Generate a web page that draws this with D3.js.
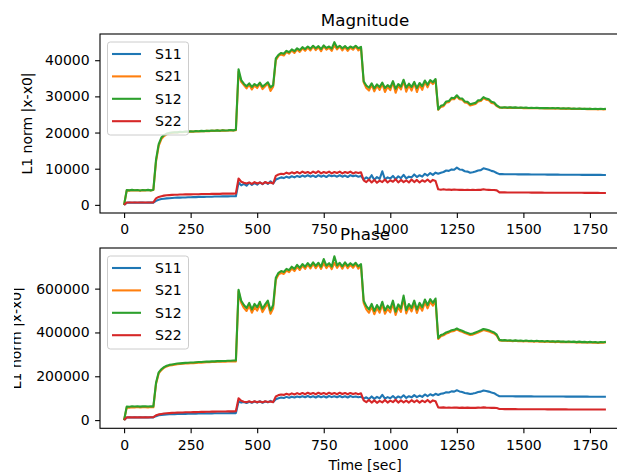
<!DOCTYPE html>
<html>
<head>
<meta charset="utf-8">
<script src="https://cdn.jsdelivr.net/npm/d3@7"></script>
<style>
  body { margin: 0; background: #fff; }
  svg { display: block; }
  text { font-family: "DejaVu Sans", sans-serif; }
</style>
</head>
<body>
<svg id="chart" width="617" height="476"></svg>
<script>
// Sample times (seconds)
const timeSec = [
  0,10,20,30,40,50,60,70,80,90,
  100,110,120,130,140,150,160,170,180,190,
  200,210,220,230,240,250,260,270,280,290,
  300,310,320,330,340,350,360,370,380,390,
  400,410,420,430,440,450,460,470,480,490,
  500,510,520,530,540,550,560,570,580,590,
  600,610,620,630,640,650,660,670,680,690,
  700,710,720,730,740,750,760,770,780,790,
  800,810,820,830,840,850,860,870,880,890,
  900,910,920,930,940,950,960,970,980,990,
  1000,1010,1020,1030,1040,1050,1060,1070,1080,1090,
  1100,1110,1120,1130,1140,1150,1160,1170,1180,1190,
  1200,1210,1220,1230,1240,1250,1260,1270,1280,1290,
  1300,1310,1320,1330,1340,1350,1360,1370,1380,1390,
  1400,1410,1420,1430,1440,1450,1460,1470,1480,1490,
  1500,1510,1520,1530,1540,1550,1560,1570,1580,1590,
  1600,1610,1620,1630,1640,1650,1660,1670,1680,1690,
  1700,1710,1720,1730,1740,1750,1760,1770,1780,1790,
  1800,1810
];

const seriesNames = ["S11", "S21", "S12", "S22"];
const seriesColors = ["#1f77b4", "#ff7f0e", "#2ca02c", "#d62728"];

const xTickValues = [0, 250, 500, 750, 1000, 1250, 1500, 1750];
const magTickValues = [0, 10000, 20000, 30000, 40000];
const phaseTickValues = [0, 200000, 400000, 600000];

// ---- Magnitude: L1 norm |x - x0| ----
const magS11 = [
  0,
  // 10-110 s
  600,620,600,610,600,620,610,600,620,610,620,
  // 120-420 s
  1100,1400,1600,1700,1800,1850,1900,1950,2000,2000,
  2050,2050,2100,2100,2150,2150,2200,2200,2200,2250,
  2250,2250,2300,2300,2300,2350,2350,2350,2400,2400,
  2400,
  // 430-560 s
  6200,5400,5800,5300,6100,5500,6000,5600,6200,5700,6300,5800,6500,5900,
  // 570-890 s
  7000,7300,7600,7400,7800,7500,7900,7600,8000,7700,
  8100,7800,8200,7800,8100,7700,8200,7800,8100,7700,
  8200,7900,8100,7800,8200,7800,8100,7700,8200,7900,
  8100,7800,8000,
  // 900-1170 s
  7000,7600,7100,8200,6900,7700,7200,9300,7000,7600,
  7300,8000,7100,7900,7400,8300,7300,7800,7600,8400,
  7700,8200,7800,8600,8100,8800,8300,8900,
  // 1180-1400 s
  8600,8900,9100,9500,9400,9800,9700,10300,9800,9700,
  9300,9200,8900,9000,9200,9500,9600,10100,9900,9700,
  9400,9200,8800,
  // 1410-1810 s
  8500,8500,8480,8480,8460,8460,8450,8440,8440,8430,
  8420,8420,8410,8400,8400,8390,8380,8380,8370,8360,
  8360,8350,8350,8340,8340,8330,8330,8320,8320,8310,
  8310,8300,8300,8300,8290,8290,8280,8280,8280,8270,
  8270
];

const magS21 = [
  0,
  4000,3950,4050,4000,4050,3900,4050,4000,4100,3950,4100,
  12000,16300,18200,19000,19500,19800,19900,20000,20000,20100,
  20100,20200,20200,20300,20250,20350,20300,20400,20350,20450,
  20400,20500,20450,20550,20450,20600,20500,20550,20650,20550,
  20650,
  36800,34000,33100,32200,33300,31900,33000,32300,33500,32000,32800,33600,31500,32700,
  40000,41200,41600,41300,42300,41800,42700,42000,43000,42300,
  43300,42600,43500,42700,43800,42800,43600,42500,43900,42900,
  43500,42600,44100,43000,43800,42700,43600,42600,43500,42900,
  43800,42700,43400,
  33900,32300,31600,33200,31400,32900,31800,33500,31200,32700,
  31700,33900,31000,33000,31900,34300,31300,33100,31600,33700,
  31200,33300,31800,34000,32500,34200,33400,34500,
  26300,27100,27300,28300,28400,29300,29200,30000,29200,29100,
  28300,28200,27500,27700,27900,28600,28700,29500,29100,28900,
  28200,28000,27300,
  26900,26850,26900,26800,26900,26800,26850,26800,26850,26750,
  26800,26750,26800,26700,26800,26700,26750,26650,26750,26650,
  26700,26600,26700,26600,26650,26550,26650,26550,26600,26500,
  26600,26500,26550,26450,26550,26450,26500,26400,26500,26400,
  26450
];

const magS12 = [
  0,
  4100,4000,4150,4050,4100,3950,4100,4050,4150,4000,4200,
  12500,16800,18600,19300,19700,19900,20000,20100,20050,20200,
  20150,20300,20250,20350,20300,20400,20350,20450,20400,20500,
  20450,20550,20500,20600,20500,20650,20550,20600,20700,20600,
  20750,
  37500,34500,33500,32800,33600,32600,33400,32900,33800,32700,33300,33900,32500,33100,
  40500,41500,42000,41800,42600,42200,43000,42500,43300,42800,
  43600,43100,43800,43200,44000,43300,43900,43100,44100,43400,
  43800,43200,45000,43500,44000,43300,43900,43200,43800,43400,
  44000,43300,43700,
  34200,33000,32400,33600,32200,33300,32600,33800,32300,33100,
  32500,34200,32100,33400,32700,34600,32400,33500,32600,34000,
  32300,33700,32800,34400,33200,34500,33900,34800,
  26400,27400,27600,28600,28700,29600,29500,30300,29500,29400,
  28600,28500,27800,28000,28200,28900,29000,29800,29400,29200,
  28500,28300,27500,
  27000,26900,27000,26900,26950,26900,26950,26850,26900,26850,
  26900,26800,26850,26800,26850,26750,26800,26750,26800,26700,
  26750,26700,26750,26650,26700,26650,26700,26600,26650,26600,
  26650,26550,26600,26550,26600,26500,26550,26500,26550,26500,
  26550
];

const magS22 = [
  0,
  650,660,650,670,650,660,670,650,660,670,700,
  1800,2200,2400,2550,2650,2700,2750,2800,2800,2850,
  2850,2900,2900,2900,2950,2950,2950,3000,3000,3000,
  3000,3050,3050,3050,3050,3100,3100,3100,3100,3100,
  3150,
  7300,6400,6100,5900,6200,5800,6300,5900,6200,5800,6300,6000,6200,5900,
  8000,8400,8600,8500,8900,8600,9000,8700,9100,8700,
  9200,8800,9100,8700,9200,8800,9300,8700,9100,8800,
  9200,8700,9100,8800,9200,8700,9100,8800,9200,8700,
  9000,8800,9000,
  6800,6300,7000,6200,6900,6100,6700,6300,7000,6200,
  6800,6400,7100,6200,6900,6300,6800,6200,7000,6300,
  6900,6200,6800,6400,7000,6300,6900,6600,
  4300,4200,4300,4200,4250,4150,4250,4200,4150,4200,
  4100,4200,4100,4150,4100,4200,4150,4300,4200,4150,
  4100,4100,4000,
  3450,3440,3440,3430,3430,3420,3420,3410,3410,3400,
  3400,3400,3390,3390,3380,3380,3380,3370,3370,3370,
  3360,3360,3360,3350,3350,3350,3340,3340,3340,3330,
  3330,3330,3320,3320,3320,3310,3310,3310,3300,3300,
  3300
];

// ---- Phase: L1 norm |x - x0| ----
const phaseS11 = [
  0,
  12000,12500,12000,12500,12000,12500,12000,12500,12000,12500,12500,
  18000,22000,24000,25000,26000,26500,27000,27500,28000,28000,
  28500,28500,29000,29000,29500,29500,30000,30000,30000,30500,
  30500,30500,31000,31000,31000,31500,31500,31500,32000,32000,
  32000,
  85000,80000,83000,78000,84000,79000,85000,80000,86000,79000,85000,81000,88000,82000,
  95000,100000,103000,101000,106000,102000,107000,103000,108000,104000,
  109000,104000,110000,104000,109000,103000,110000,104000,109000,103000,
  110000,105000,109000,104000,110000,104000,109000,103000,110000,105000,
  108000,104000,107000,
  98000,104000,96000,108000,97000,106000,99000,115000,98000,105000,
  100000,110000,99000,108000,102000,113000,101000,109000,104000,114000,
  105000,112000,106000,117000,109000,118000,112000,120000,
  115000,120000,122000,127000,126000,131000,130000,136000,131000,128000,
  124000,122000,119000,121000,124000,128000,130000,135000,133000,130000,
  126000,123000,115000,
  109000,109000,108800,108800,108600,108600,108500,108400,108400,108300,
  108200,108200,108100,108000,108000,107900,107800,107800,107700,107600,
  107600,107500,107500,107400,107400,107300,107300,107200,107200,107100,
  107100,107000,107000,107000,106900,106900,106800,106800,106800,106700,
  106700
];

const phaseS21 = [
  0,
  58000,57000,59000,58000,59500,57500,58500,59000,58000,59500,58500,
  165000,213000,228000,239000,245000,249000,251000,253000,255000,256000,
  257000,258000,259000,260000,260000,261000,262000,262000,263000,264000,
  264000,265000,265000,266000,266000,267000,267000,268000,268000,269000,
  268000,
  588000,535000,512000,498000,522000,490000,516000,500000,527000,493000,514000,532000,485000,510000,
  640000,664000,672000,667000,682000,675000,692000,680000,700000,685000,
  705000,690000,710000,692000,714000,693000,712000,690000,716000,694000,
  710000,689000,718000,695000,712000,691000,714000,693000,710000,695000,
  712000,691000,706000,
  535000,505000,490000,518000,483000,512000,490000,528000,485000,508000,
  492000,532000,480000,515000,494000,556000,487000,517000,496000,533000,
  489000,522000,499000,538000,510000,540000,522000,545000,
  370000,383000,387000,395000,399000,405000,407000,413000,407000,403000,
  397000,393000,388000,390000,395000,400000,405000,411000,408000,405000,
  400000,395000,385000,
  364000,362000,363000,361000,362000,360000,362000,360000,361000,359000,
  361000,359000,360000,358000,360000,358000,359000,357000,359000,357000,
  358000,356000,358000,356000,357000,355000,357000,355000,356000,354000,
  356000,354000,355000,353000,355000,353000,354000,352000,354000,353000,
  355000
];

const phaseS12 = [
  0,
  62000,61000,63000,62000,63500,61500,62500,63000,62000,63500,62500,
  170000,218000,232000,242000,248000,252000,254000,256000,258000,259000,
  260000,261000,262000,263000,263000,264000,265000,265000,266000,267000,
  267000,268000,268000,269000,269000,270000,270000,271000,271000,272000,
  272000,
  595000,545000,525000,512000,535000,505000,530000,515000,540000,508000,528000,545000,500000,525000,
  650000,672000,680000,676000,690000,684000,700000,690000,708000,695000,
  712000,700000,716000,702000,720000,704000,718000,700000,735000,705000,
  716000,700000,748000,706000,718000,702000,720000,704000,716000,706000,
  718000,702000,712000,
  545000,520000,505000,530000,498000,525000,505000,540000,500000,522000,
  508000,545000,495000,528000,510000,568000,502000,530000,512000,545000,
  505000,535000,515000,550000,525000,552000,535000,555000,
  375000,388000,392000,400000,404000,410000,412000,418000,412000,408000,
  402000,398000,393000,395000,400000,405000,410000,416000,413000,410000,
  405000,400000,390000,
  366000,364000,365000,363000,364000,362000,364000,362000,363000,361000,
  363000,361000,362000,360000,362000,360000,361000,359000,361000,359000,
  360000,358000,360000,358000,359000,357000,359000,357000,358000,356000,
  358000,356000,357000,355000,357000,355000,356000,354000,356000,355000,
  357000
];

const phaseS22 = [
  0,
  12500,13000,12500,13000,12500,13000,12500,13000,12500,13000,13500,
  22000,26000,28000,30000,31000,32000,33000,33500,34000,34500,
  35000,35500,36000,36000,36500,36500,37000,37500,37500,38000,
  38000,38500,38500,39000,39000,39500,39500,40000,40000,40000,
  40500,
  100000,88000,84000,82000,86000,81000,86000,82000,85000,81000,86000,83000,85000,82000,
  108000,114000,117000,115000,120000,116000,122000,117000,123000,118000,
  124000,118000,125000,119000,124000,118000,125000,119000,124000,118000,
  125000,119000,124000,118000,125000,119000,124000,118000,124000,119000,
  123000,118000,122000,
  90000,82000,92000,80000,90000,79000,88000,81000,92000,80000,
  89000,82000,93000,80000,90000,81000,89000,80000,91000,82000,
  90000,80000,89000,82000,92000,81000,90000,86000,
  58000,57000,58000,56500,57500,56500,57500,57000,56000,57000,
  56000,57000,56000,56500,56000,57000,56500,58000,57000,56500,
  56000,56000,55000,
  50500,50400,50300,50200,50100,50000,49900,49800,49800,49700,
  49600,49600,49500,49400,49400,49300,49200,49200,49100,49100,
  49000,49000,48900,48900,48800,48800,48700,48700,48700,48600,
  48600,48600,48500,48500,48500,48400,48400,48400,48300,48300,
  48300
];

const svg = d3.select("#chart");

// Pad a [min, max] extent by 5% on each side
function padded(ext) {
  const m = (ext[1] - ext[0]) * 0.05;
  return [ext[0] - m, ext[1] + m];
}

const plotLeft = 100, plotRight = 630;
const x = d3.scaleLinear()
  .domain(padded(d3.extent(timeSec)))
  .range([plotLeft, plotRight]);

function drawPanel(opts) {
  const { top, bottom, title, titleBaseline, series, yTicks, xLabel, yLabelX, yLabelClip } = opts;
  const all = series.flat();
  const y = d3.scaleLinear()
    .domain(padded([d3.min(all), d3.max(all)]))
    .range([bottom, top]);

  const g = svg.append("g");

  // data lines
  const line = d3.line()
    .x((d, i) => x(timeSec[i]))
    .y(d => y(d));
  series.forEach((vals, k) => {
    g.append("path")
      .datum(vals)
      .attr("d", line)
      .attr("fill", "none")
      .attr("stroke", seriesColors[k])
      .attr("stroke-width", 2.1)
      .attr("stroke-linejoin", "round");
  });

  // axes
  const xAxis = g.append("g")
    .attr("transform", `translate(0,${bottom})`)
    .call(d3.axisBottom(x).tickValues(xTickValues).tickSize(4.9).tickPadding(6.6).tickFormat(d3.format("d")));
  const yAxis = g.append("g")
    .attr("transform", `translate(${plotLeft},0)`)
    .call(d3.axisLeft(y).tickValues(yTicks).tickSize(4.9).tickPadding(5.5).tickFormat(d3.format("d")));
  [xAxis, yAxis].forEach(a => {
    a.attr("font-family", null).attr("font-size", null);
    a.select(".domain").remove();
    a.selectAll(".tick line").attr("stroke", "#000").attr("stroke-width", 1.1);
    a.selectAll(".tick text").attr("fill", "#000").style("font-size", "14px");
  });

  // frame
  g.append("rect")
    .attr("x", plotLeft).attr("y", top)
    .attr("width", plotRight - plotLeft).attr("height", bottom - top)
    .attr("fill", "none").attr("stroke", "#000").attr("stroke-width", 1.1);

  // legend
  const lgTop = top + 8;
  const legend = g.append("g");
  legend.append("rect")
    .attr("x", 107.5).attr("y", lgTop)
    .attr("width", 81).attr("height", 93)
    .attr("rx", 2.8)
    .attr("fill", "#fff").attr("fill-opacity", 0.8)
    .attr("stroke", "#cccccc").attr("stroke-width", 1);
  seriesNames.forEach((name, k) => {
    const cy = lgTop + 12 + k * 22.4;
    legend.append("line")
      .attr("x1", 112).attr("x2", 141)
      .attr("y1", cy).attr("y2", cy)
      .attr("stroke", seriesColors[k]).attr("stroke-width", 2.1);
    legend.append("text")
      .attr("x", 155).attr("y", cy + 5)
      .style("font-size", "14px")
      .attr("fill", "#000")
      .text(name);
  });

  // title
  g.append("text")
    .attr("x", (plotLeft + plotRight) / 2).attr("y", titleBaseline)
    .attr("text-anchor", "middle")
    .style("font-size", "16.7px")
    .attr("fill", "#000")
    .text(title);

  // y label (optionally trimmed at the left page margin)
  const ylWrap = g.append("g");
  if (yLabelClip != null) {
    const id = "ylabel-clip-" + Math.round(top);
    svg.append("clipPath").attr("id", id)
      .attr("clipPathUnits", "userSpaceOnUse")
      .append("rect").attr("x", yLabelClip).attr("y", 0).attr("width", 200).attr("height", 476);
    ylWrap.attr("clip-path", `url(#${id})`);
  }
  ylWrap.append("text")
    .attr("transform", `translate(${yLabelX},${(top + bottom) / 2}) rotate(-90)`)
    .attr("text-anchor", "middle")
    .style("font-size", "14px")
    .attr("fill", "#000")
    .text("L1 norm |x-x0|");

  if (xLabel) {
    g.append("text")
      .attr("x", (plotLeft + plotRight) / 2).attr("y", bottom + 42)
      .attr("text-anchor", "middle")
      .style("font-size", "14px")
      .attr("fill", "#000")
      .text(xLabel);
  }
}

drawPanel({
  top: 34, bottom: 213,
  title: "Magnitude", titleBaseline: 25.5,
  series: [magS11, magS21, magS12, magS22],
  yTicks: magTickValues,
  yLabelX: 32
});

drawPanel({
  top: 248, bottom: 428.3,
  title: "Phase", titleBaseline: 239.5,
  series: [phaseS11, phaseS21, phaseS12, phaseS22],
  yTicks: phaseTickValues,
  xLabel: "Time [sec]",
  yLabelX: 21, yLabelClip: 14
});
</script>
</body>
</html>
